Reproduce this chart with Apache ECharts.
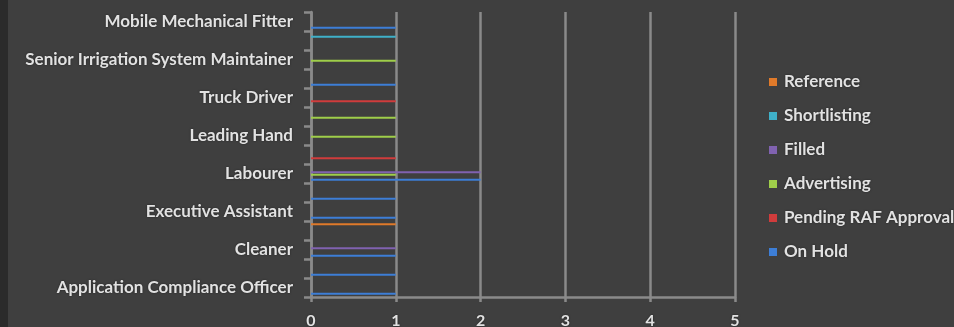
<!DOCTYPE html>
<html>
<head>
<meta charset="utf-8">
<script src="https://cdn.jsdelivr.net/npm/echarts@6/dist/echarts.min.js"></script>
<style>
html,body{margin:0;padding:0;background:#3f3f3f;}
#c{width:954px;height:327px;}
</style>
</head>
<body>
<div id="c"></div>
<script>
// Categories bottom to top (every other label is hidden by the axis, as in the reference)
const categories = [
  'Application Compliance Officer', 'Position 2', 'Cleaner', 'Position 4',
  'Executive Assistant', 'Position 6', 'Labourer', 'Position 8',
  'Leading Hand', 'Position 10', 'Truck Driver', 'Position 12',
  'Senior Irrigation System Maintainer', 'Position 14', 'Mobile Mechanical Fitter'
];
const onHold       = [1, 1, 1, 0, 1, 1, 2, 0, 0, 0, 0, 1, 0, 0, 1];
const pendingRAF   = [0, 0, 0, 0, 0, 0, 0, 1, 0, 0, 1, 0, 0, 0, 0];
const advertising  = [0, 0, 0, 0, 0, 0, 1, 0, 1, 1, 0, 0, 1, 0, 0];
const filled       = [0, 0, 1, 0, 0, 0, 2, 0, 0, 0, 0, 0, 0, 0, 0];
const shortlisting = [0, 0, 0, 0, 0, 0, 0, 0, 0, 0, 0, 0, 0, 1, 0];
const reference    = [0, 0, 0, 1, 0, 0, 0, 0, 0, 0, 0, 0, 0, 0, 0];
const xTicks = [0, 1, 2, 3, 4, 5];

// ECharts puts the first series at the top of each band, so list top-to-bottom
const seriesDefs = [
  {name: 'Reference', data: reference, color: '#e07a2a'},
  {name: 'Shortlisting', data: shortlisting, color: '#3fb0c8'},
  {name: 'Filled', data: filled, color: '#8062b0'},
  {name: 'Advertising', data: advertising, color: '#9fce4a'},
  {name: 'Pending RAF Approval', data: pendingRAF, color: '#d03c3c'},
  {name: 'On Hold', data: onHold, color: '#3d7ed6'}
];
const legendOrder = ['Reference', 'Shortlisting', 'Filled', 'Advertising', 'Pending RAF Approval', 'On Hold'];

const chart = echarts.init(document.getElementById('c'), null, {renderer: 'canvas'});
const txt = {color: '#e2e2e2', fontFamily: 'Lato', fontWeight: 'bold', fontSize: 17,
  textShadowColor: 'rgba(0,0,0,0.5)', textShadowBlur: 2};
chart.setOption({
  backgroundColor: '#3f3f3f',
  animation: false,
  graphic: [{type: 'rect', shape: {x: 0, y: 0, width: 8, height: 327}, style: {fill: '#2b2b2b'}, z: -1}],
  grid: {left: 311, right: 219, top: 12, bottom: 30, containLabel: false, outerBoundsMode: 'none'},
  legend: {
    orient: 'vertical', left: 769, top: 72, itemWidth: 8, itemHeight: 8, itemGap: 14,
    icon: 'rect', data: legendOrder, padding: 0,
    textStyle: Object.assign({}, txt, {fontSize: 17, padding: [0, 0, 0, 2], lineHeight: 20})
  },
  xAxis: {
    type: 'value', min: xTicks[0], max: xTicks[xTicks.length - 1], interval: 1,
    axisLine: {show: true, lineStyle: {color: '#8a8a8a', width: 2.5}},
    axisTick: {show: true, length: 5, lineStyle: {color: '#8a8a8a', width: 2.5}},
    splitLine: {show: true, lineStyle: {color: '#8a8a8a', width: 2.5}},
    axisLabel: Object.assign({}, txt, {fontSize: 16, margin: 16, formatter: v => String(v)})
  },
  yAxis: {
    type: 'category', data: categories,
    axisLine: {show: true, lineStyle: {color: '#8a8a8a', width: 2.5}},
    axisTick: {show: true, interval: 0, length: 7, lineStyle: {color: '#8a8a8a', width: 2.5}},
    axisLabel: Object.assign({}, txt, {interval: 1, margin: 18})
  },
  series: seriesDefs.map(s => ({
    name: s.name, type: 'bar', data: s.data, barWidth: 2, barGap: '27%',
    itemStyle: {color: s.color}
  }))
});
</script>
</body>
</html>
